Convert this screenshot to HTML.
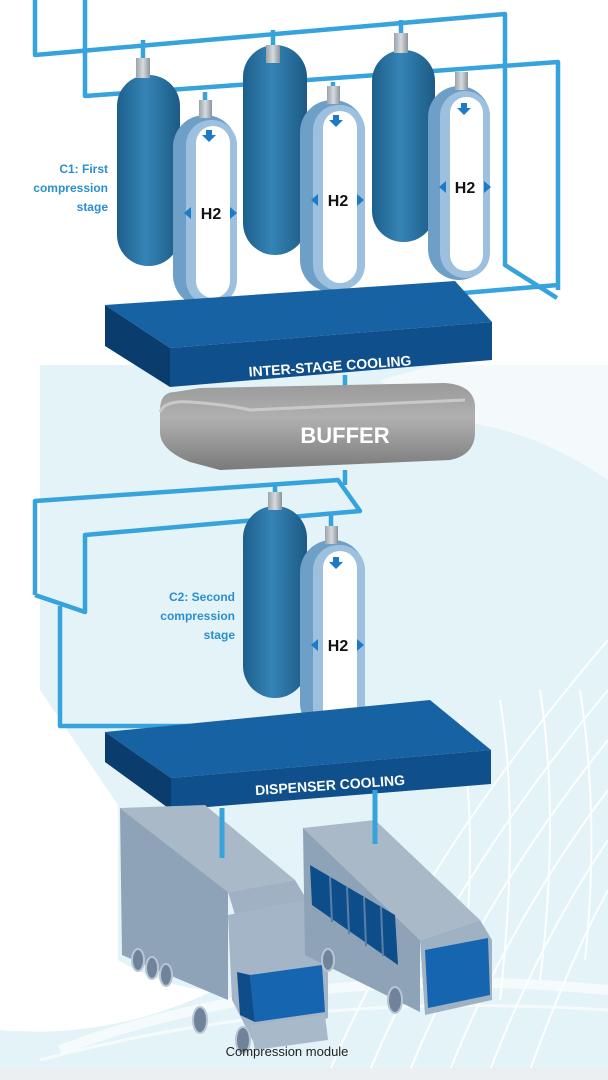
<!DOCTYPE html>
<html><head><meta charset="utf-8"><style>
html,body{margin:0;padding:0;background:#fff;}
svg{display:block;}
text{font-family:"Liberation Sans",sans-serif;}
</style></head><body>
<svg width="608" height="1080" viewBox="0 0 608 1080" xmlns="http://www.w3.org/2000/svg">
<defs>
<linearGradient id="tank" x1="0" x2="1" y1="0" y2="0">
<stop offset="0" stop-color="#1d5f8c"/><stop offset="0.45" stop-color="#3584b5"/><stop offset="1" stop-color="#1c5a86"/>
</linearGradient>
<linearGradient id="cap" x1="0" x2="1"><stop offset="0" stop-color="#9aa3aa"/><stop offset="0.5" stop-color="#d6dbde"/><stop offset="1" stop-color="#8a949b"/></linearGradient>
<linearGradient id="buf" x1="0" x2="0" y1="0" y2="1"><stop offset="0" stop-color="#9a9a9a"/><stop offset="0.4" stop-color="#b0b0b0"/><stop offset="1" stop-color="#7a7a7a"/></linearGradient>
</defs>
<!-- background -->
<rect x="40" y="365" width="568" height="705" fill="#e4f3f7"/>
<rect x="0" y="690" width="40" height="380" fill="#e4f3f7"/>
<path d="M0,690 L40,690 L118,805 L118,960 Q170,990 215,990 Q110,1040 0,1030 Z" fill="#fff"/>
<g fill="none" stroke="#fff" stroke-width="2" opacity="0.9">
<path d="M608,640 Q420,860 330,1070"/><path d="M608,690 Q450,880 370,1070"/><path d="M608,740 Q480,900 410,1070"/>
<path d="M608,790 Q510,920 450,1070"/><path d="M608,840 Q540,940 490,1070"/><path d="M608,890 Q570,960 530,1070"/>
<path d="M500,700 Q520,820 500,1000"/><path d="M540,690 Q560,820 540,980"/><path d="M580,690 Q600,820 585,960"/>
<path d="M460,720 Q480,840 460,1000"/>
<path d="M60,1050 Q300,960 608,990" stroke-width="10" opacity="0.7"/>
<path d="M40,1060 Q300,990 608,1010" stroke-width="3" opacity="0.7"/>
</g>
<path d="M380,380 Q560,330 608,330 L608,480 Q520,420 430,420 Z" fill="#fff" opacity="0.6"/>
<rect x="0" y="1068" width="608" height="12" fill="#eceff2"/>

<!-- top pipes -->
<g fill="none" stroke="#36a3dc" stroke-width="4.5" stroke-linejoin="round">
<path d="M35,0 L35,55 L505,14 L505,265 L557,298"/>
<path d="M85,0 L85,96 L558,62 L558,290"/>
<path d="M558,285 L345,303 L345,318"/>
<path d="M143,40 L143,60 M273,30 L273,48 M401,20 L401,35"/>
<path d="M205,92 L205,105 M333,82 L333,92 M461,72 L461,80"/>
<path d="M345,375 L345,392"/>
</g>
<!-- C1 tanks -->
<g>
<rect x="117" y="75" width="63" height="191" rx="31" fill="url(#tank)"/>
<rect x="136" y="58" width="14" height="20" fill="url(#cap)"/>
<rect x="243" y="45" width="64" height="210" rx="32" fill="url(#tank)"/>
<rect x="266" y="45" width="14" height="18" fill="url(#cap)"/>
<rect x="372" y="50" width="63" height="192" rx="31" fill="url(#tank)"/>
<rect x="394" y="33" width="14" height="20" fill="url(#cap)"/>
</g>
<!-- capsules -->
<g>
<rect x="173" y="115" width="64" height="192" rx="32" fill="#6e9fc6"/>
<rect x="186" y="120" width="51" height="185" rx="25" fill="#9cc0de"/>
<rect x="196" y="126" width="34" height="172" rx="17" fill="#fff"/>
<rect x="199" y="100" width="13" height="18" fill="url(#cap)"/>
<rect x="300" y="100" width="65" height="192" rx="32" fill="#6e9fc6"/>
<rect x="313" y="105" width="52" height="185" rx="25" fill="#9cc0de"/>
<rect x="323" y="111" width="34" height="172" rx="17" fill="#fff"/>
<rect x="327" y="86" width="13" height="18" fill="url(#cap)"/>
<rect x="428" y="86" width="62" height="194" rx="31" fill="#6e9fc6"/>
<rect x="440" y="91" width="50" height="187" rx="25" fill="#9cc0de"/>
<rect x="450" y="97" width="33" height="174" rx="16" fill="#fff"/>
<rect x="455" y="72" width="13" height="18" fill="url(#cap)"/>
</g>
<g fill="#1c7bc8">
<path d="M206,130 h6 v5 h4 l-7,7 l-7,-7 h4z"/><path d="M333,115 h6 v5 h4 l-7,7 l-7,-7 h4z"/><path d="M461,103 h6 v5 h4 l-7,7 l-7,-7 h4z"/>
<path d="M184,213 l7,-6 v12z M237,213 l-7,-6 v12z"/>
<path d="M311,200 l7,-6 v12z M364,200 l-7,-6 v12z"/>
<path d="M439,187 l7,-6 v12z M491,187 l-7,-6 v12z"/>
</g>
<g font-weight="bold" font-size="16" fill="#111" text-anchor="middle">
<text x="211" y="219">H2</text><text x="338" y="206">H2</text><text x="465" y="193">H2</text>
</g>
<g font-size="12" font-weight="bold" fill="#2a8fd0" text-anchor="end">
<text x="108" y="173">C1: First</text><text x="108" y="192">compression</text><text x="108" y="211">stage</text>
</g>
<!-- inter-stage cooling -->
<polygon points="105,305 455,281 492,322 170,348" fill="#1762a3"/>
<polygon points="170,348 492,322 492,360 170,387" fill="#0e4f8c"/>
<polygon points="105,305 170,348 170,387 105,346" fill="#0a3d6e"/>
<text x="330" y="371" font-size="14" font-weight="bold" fill="#fff" text-anchor="middle" transform="rotate(-4 330 366)">INTER-STAGE COOLING</text>
<!-- buffer -->
<path d="M175,392 Q160,392 160,410 L160,432 Q160,450 190,462 L220,470 L450,460 Q475,455 475,432 L475,405 Q473,385 445,383 L200,388 Z" fill="url(#buf)"/>
<path d="M160,412 Q165,400 190,402 Q230,405 250,410 L465,400" fill="none" stroke="#c9c9c9" stroke-width="3"/>
<text x="345" y="443" font-size="22" font-weight="bold" fill="#fff" text-anchor="middle">BUFFER</text>
<!-- lower pipes -->
<g fill="none" stroke="#36a3dc" stroke-width="4.5" stroke-linejoin="round">
<path d="M345,470 L345,485"/>
<path d="M35,595 L35,501 L338,480 L360,511 L85,535 L85,612 L35,595"/>
<path d="M60,606 L60,726 L272,726 L272,742"/>
<path d="M275,485 L275,505 M331,515 L331,528"/>
</g>
<rect x="243" y="506" width="64" height="192" rx="32" fill="url(#tank)"/>
<rect x="268" y="492" width="14" height="18" fill="url(#cap)"/>
<rect x="300" y="540" width="65" height="195" rx="32" fill="#6e9fc6"/>
<rect x="313" y="545" width="52" height="188" rx="25" fill="#9cc0de"/>
<rect x="323" y="551" width="34" height="176" rx="17" fill="#fff"/>
<rect x="325" y="526" width="13" height="18" fill="url(#cap)"/>
<g fill="#1c7bc8"><path d="M333,557 h6 v5 h4 l-7,7 l-7,-7 h4z"/><path d="M311,645 l7,-6 v12z M364,645 l-7,-6 v12z"/></g>
<text x="338" y="651" font-size="16" font-weight="bold" fill="#111" text-anchor="middle">H2</text>
<g font-size="12" font-weight="bold" fill="#2a8fd0" text-anchor="end">
<text x="235" y="601">C2: Second</text><text x="235" y="620">compression</text><text x="235" y="639">stage</text>
</g>
<!-- dispenser cooling -->
<polygon points="105,732 430,700 491,750 171,778" fill="#1762a3"/>
<polygon points="171,778 491,750 491,784 171,810" fill="#0e4f8c"/>
<polygon points="105,732 171,778 171,810 105,762" fill="#0a3d6e"/>
<text x="330" y="790" font-size="14" font-weight="bold" fill="#fff" text-anchor="middle" transform="rotate(-4 330 785)">DISPENSER COOLING</text>
<!-- truck -->
<polygon points="120,808 205,805 295,880 228,892" fill="#a9b9c8"/>
<polygon points="120,808 228,892 228,1000 122,955" fill="#8ea3b8"/>
<polygon points="228,892 295,880 310,905 235,915" fill="#9fb1c2"/>
<polygon points="228,915 305,900 328,935 328,1018 255,1045 232,1000" fill="#a3b5c6"/>
<polygon points="250,975 322,965 325,1012 255,1022" fill="#1565b0"/>
<polygon points="237,972 250,975 255,1022 240,1015" fill="#0d4e8a"/>
<polygon points="250,1025 325,1015 328,1040 255,1050" fill="#a8b9c9"/>
<g fill="#6f849a" stroke="#b8c6d3" stroke-width="2">
<ellipse cx="138" cy="960" rx="6" ry="11"/><ellipse cx="152" cy="968" rx="6" ry="11"/><ellipse cx="166" cy="975" rx="6" ry="11"/>
<ellipse cx="200" cy="1020" rx="7" ry="13"/><ellipse cx="243" cy="1040" rx="7" ry="13"/>
</g>
<!-- bus -->
<polygon points="303,828 375,820 480,920 420,940" fill="#a9b9c8"/>
<polygon points="303,828 420,940 420,1012 305,955" fill="#8ea3b8"/>
<polygon points="420,940 480,920 492,940 492,1000 425,1015" fill="#9fb2c4"/>
<polygon points="425,950 488,938 490,995 428,1008" fill="#1565b0"/>
<g fill="#0d4e8a"><polygon points="310,865 395,915 398,965 312,905"/></g>
<g stroke="#5a7fa6" stroke-width="2"><line x1="330" y1="877" x2="332" y2="922"/><line x1="347" y1="887" x2="349" y2="934"/><line x1="364" y1="897" x2="366" y2="946"/><line x1="381" y1="907" x2="383" y2="956"/></g>
<g fill="#6f849a" stroke="#b8c6d3" stroke-width="2"><ellipse cx="328" cy="960" rx="6" ry="11"/><ellipse cx="395" cy="1000" rx="7" ry="13"/></g>
<!-- pipes to vehicles -->
<g stroke="#36a3dc" stroke-width="5"><line x1="222" y1="808" x2="222" y2="858"/><line x1="375" y1="790" x2="375" y2="844"/></g>
<text x="287" y="1056" font-size="13" fill="#222" text-anchor="middle">Compression module</text>
</svg>
</body></html>
